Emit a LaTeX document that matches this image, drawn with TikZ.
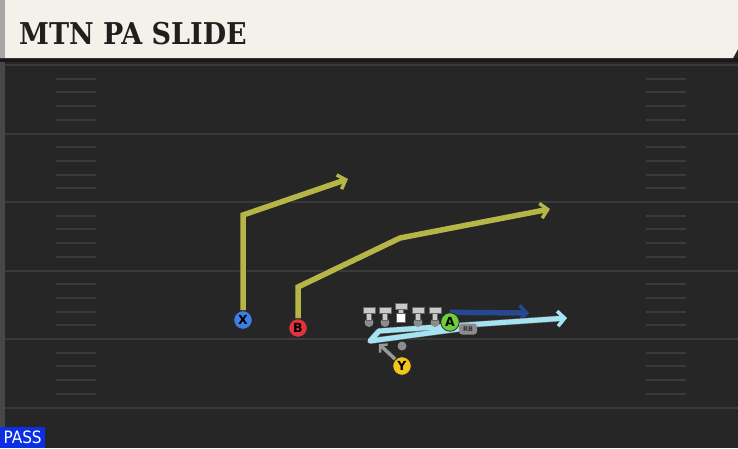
\documentclass[tikz,border=0pt]{standalone}
\usepackage{fontspec}
\setmainfont{DejaVu Sans}
\newfontfamily\titlefont{DejaVu Serif Condensed}
\newfontfamily\passfont{DejaVu Sans Condensed}
\usetikzlibrary{arrows.meta,positioning,calc,backgrounds}
\definecolor{field}{HTML}{262626}
\definecolor{yardline}{HTML}{3A3A3A}
\definecolor{header}{HTML}{F4F1EA}
\definecolor{route}{HTML}{B5B548}
\definecolor{deepblue}{HTML}{27478F}
\definecolor{lightblue}{HTML}{A6E3F2}
\definecolor{xblue}{HTML}{3F7FE3}
\definecolor{bred}{HTML}{E2313F}
\definecolor{agreen}{HTML}{6BCF3C}
\definecolor{yyellow}{HTML}{F2C41E}
\definecolor{passblue}{HTML}{0B2EE6}
\definecolor{lineman}{HTML}{C9C9C9}
\begin{document}
\begin{tikzpicture}[x=1pt,y=-1pt,
    player/.style={circle, draw=black!85, line width=0.8pt, minimum size=18.5pt,
      inner sep=0pt, font=\bfseries\fontsize{12.5}{12.5}\selectfont},
    routeline/.style={line width=5.5pt, line join=miter,
      -{Straight Barb[length=7pt,width=15pt,line width=3.5pt]},
      preaction={draw=black!85, line width=7pt}},
    hashmark/.style={yardline, line width=2pt},
    ol/.style={fill=lineman, draw=black!60, line width=0.5pt}]
    \useasboundingbox (0,0) rectangle (738,448);

    % field and header
    \begin{scope}[on background layer]
    \fill[field] (0,0) rectangle (738,448);
    \fill[black!90] (0,58) rectangle (738,62);
    \fill[black!80!white!90] (0,62) rectangle (5,448);
    \foreach \yl in {65,133.5,202,270.5,339,407.5}
        \draw[yardline, line width=2pt] (5,\yl) -- (738,\yl);
    \foreach \yl in {65,133.5,202,270.5,339}
        \foreach \k in {1,...,4} {
            \draw[hashmark] (56,\yl+\k*13.7) -- (96,\yl+\k*13.7);
            \draw[hashmark] (646,\yl+\k*13.7) -- (686,\yl+\k*13.7);
        }
    \fill[header] (0,0) -- (738,0) -- (738,49) -- (733,58) -- (0,58) -- cycle;
    \fill[black!35] (0,0) rectangle (5,58);
    \end{scope}
    \node[anchor=base west, text=black!88, inner sep=0pt,
        font=\titlefont\bfseries\fontsize{30}{30}\selectfont] (title) at (19,44) {MTN PA SLIDE};

    % pass tag
    \node[fill=passblue, text=white, anchor=south west, minimum width=45pt,
        minimum height=21pt, inner sep=0pt,
        font=\passfont\fontsize{17}{17}\selectfont] (pass) at (0,448) {PASS};

    % offensive line
    \foreach \x in {369,385,418,435} {
        \fill[black!45] (\x,322.5) circle (4.5);
        \filldraw[ol] (\x-2.5,312.5) rectangle (\x+2.5,320.5);
        \filldraw[ol] (\x-6,307.5) rectangle (\x+6,313);
    }
    \filldraw[ol] (398.5,308.5) rectangle (403.5,314);
    \filldraw[ol] (395,303.5) rectangle (407,309);
    \filldraw[fill=white, draw=black!60] (396.5,313.5) rectangle (405.5,322.5);
    \fill[black!45] (402,346) circle (4.5);

    % players
    \node[player, fill=xblue] (X) at (243,320) {X};
    \node[player, fill=bred] (B) at (298,328) {B};
    \node[player, fill=agreen] (A) at (450,322) {A};
    \node[player, fill=yyellow] (Y) at (402,366) {Y};
    \node[fill=black!45, text=black!80, rounded corners=3pt, inner sep=1.2pt,
        minimum width=18pt, minimum height=11pt,
        font=\bfseries\fontsize{6.5}{6.5}\selectfont] (rb) at (468,329) {RB};

    % routes
    \coordinate (xbreak) at (243,215);
    \coordinate (xend) at (348,179);
    \coordinate (bbreak) at (298,287);
    \coordinate (bbend) at (400,238);
    \coordinate (bend) at (550,209);
    \coordinate (aend) at (529,313);
    \coordinate (fake) at (370,341);
    \coordinate (turn) at (379,331);
    \coordinate (slideend) at (567,318);
    \coordinate (yend) at (379,344);
    \begin{scope}[on background layer]
    \draw[routeline, route] (X.north) -- (xbreak) -- (xend);
    \draw[routeline, route] (B.north) -- (bbreak) -- (bbend) -- (bend);
    \draw[routeline, deepblue] (A.north) -- (aend);
    \draw[routeline, lightblue, line width=5pt, line join=round,
        preaction={draw=black!60, line width=6pt, line join=round}]
        (rb.west) -- (fake) -- (turn) -- (slideend);
    \draw[line width=3.5pt, black!40, -{Straight Barb[length=5pt,width=11pt,line width=2.5pt]}]
        (Y.north west) -- (yend);
    \end{scope}
\end{tikzpicture}
\end{document}
